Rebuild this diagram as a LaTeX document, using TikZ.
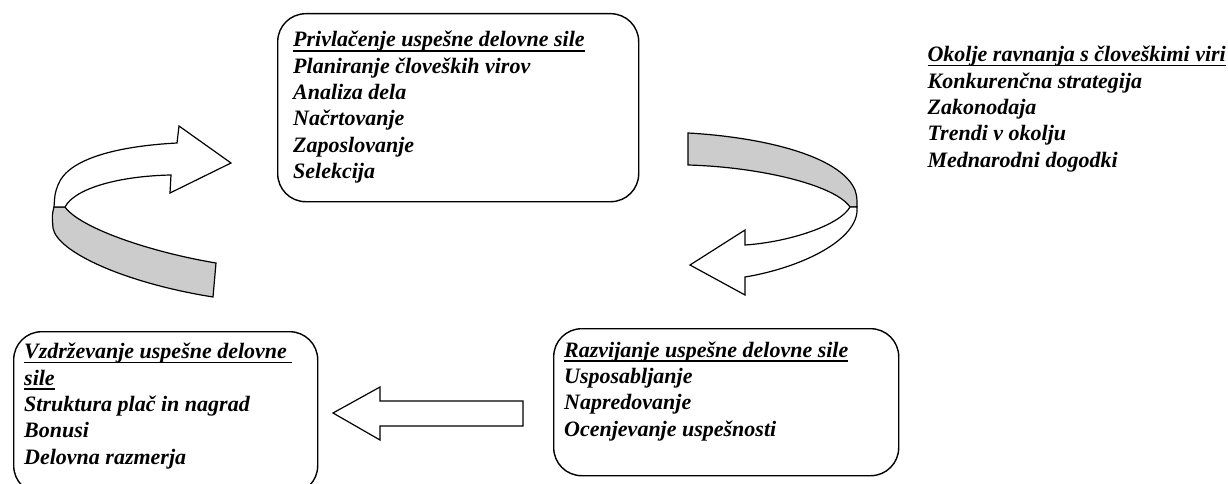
\documentclass[tikz,border=0pt]{standalone}
\usepackage{fontspec}
\setmainfont{Liberation Serif}
% underline drawn as a rule that runs through the descenders
\newcommand\ulText[1]{\setbox0\hbox{#1}\rlap{\rule[-4.5pt]{\wd0}{1.8pt}}\box0}
\begin{document}
\begin{tikzpicture}[x=1pt,y=-1pt,
  stagebox/.style={draw, line width=1.4pt, rounded corners=28pt, anchor=north west, inner sep=0pt},
  stagetext/.style={anchor=base west, align=left, inner sep=0pt,
    font=\fontsize{22pt}{26.3pt}\selectfont\bfseries\itshape},
  ribbon/.style={draw, line width=1.2pt, line join=miter},
  ribbonback/.style={ribbon, fill=gray!40},
  ribbonfront/.style={ribbon, fill=white}]
\useasboundingbox (0,0) rectangle (1228,484);
\clip (0,0) rectangle (1228,484);

% the three stage boxes
\node[stagebox, minimum width=361pt, minimum height=188pt] (attract) at (277,13) {};
\node[stagebox, minimum width=345pt, minimum height=147pt] (develop) at (553,328) {};
\node[stagebox, minimum width=304pt, minimum height=162pt] (retain) at (13,331) {};

% texts of the stages (anchored at the baseline of their last line)
\node[stagetext] (attracttxt) at (293,178.5) {\ulText{Privlačenje uspešne delovne sile}\\
  Planiranje človeških virov\\ Analiza dela\\ Načrtovanje\\ Zaposlovanje\\ Selekcija};
\node[stagetext] (developtxt) at (564,436) {\ulText{Razvijanje uspešne delovne sile}\\
  Usposabljanje\\ Napredovanje\\ Ocenjevanje uspešnosti};
\node[stagetext] (retaintxt) at (24,464) {\ulText{Vzdrževanje uspešne delovne\ }\\
  \ulText{sile}\\ Struktura plač in nagrad\\ Bonusi\\ Delovna razmerja};
\node[stagetext, anchor=base east] (envtxt) at (1226,167) {\ulText{Okolje ravnanja s človeškimi viri}\\
  Konkurenčna strategija\\ Zakonodaja\\ Trendi v okolju\\ Mednarodni dogodki};

% curved ribbon arrow, left side (from retaining up to attracting)
\path[ribbonback] (54,207) .. controls (52,215) .. (53,228)
  .. controls (57,252) and (125,283) .. (213,297) -- (216,263)
  .. controls (150,252) and (80,228) .. (65,207) -- cycle;
\path[ribbonfront] (231,163) -- (179,126) -- (177,143)
  .. controls (120,146) and (68,158) .. (58,185)
  .. controls (55,193) .. (54,207) -- (65,207)
  .. controls (75,188) and (120,176) .. (171,175)
  -- (170,193) -- cycle;

% curved ribbon arrow, right side (from attracting down to developing)
\path[ribbonback] (688,133) .. controls (760,137) and (840,155) .. (855,190)
  .. controls (857,197) .. (857,207) -- (850,207)
  .. controls (835,185) and (760,167) .. (688,165) -- cycle;
\path[ribbonfront] (850,207) -- (857,207)
  .. controls (860,240) and (800,268) .. (745,277)
  -- (745,295) -- (690,265) -- (745,230) -- (745,245)
  .. controls (790,242) and (840,225) .. (850,207) -- cycle;

% straight block arrow from developing to retaining
\path[ribbonfront] (333,413) -- (380,387) -- (380,401) -- (523,401)
  -- (523,426) -- (380,426) -- (380,440) -- cycle;
\end{tikzpicture}
\end{document}
